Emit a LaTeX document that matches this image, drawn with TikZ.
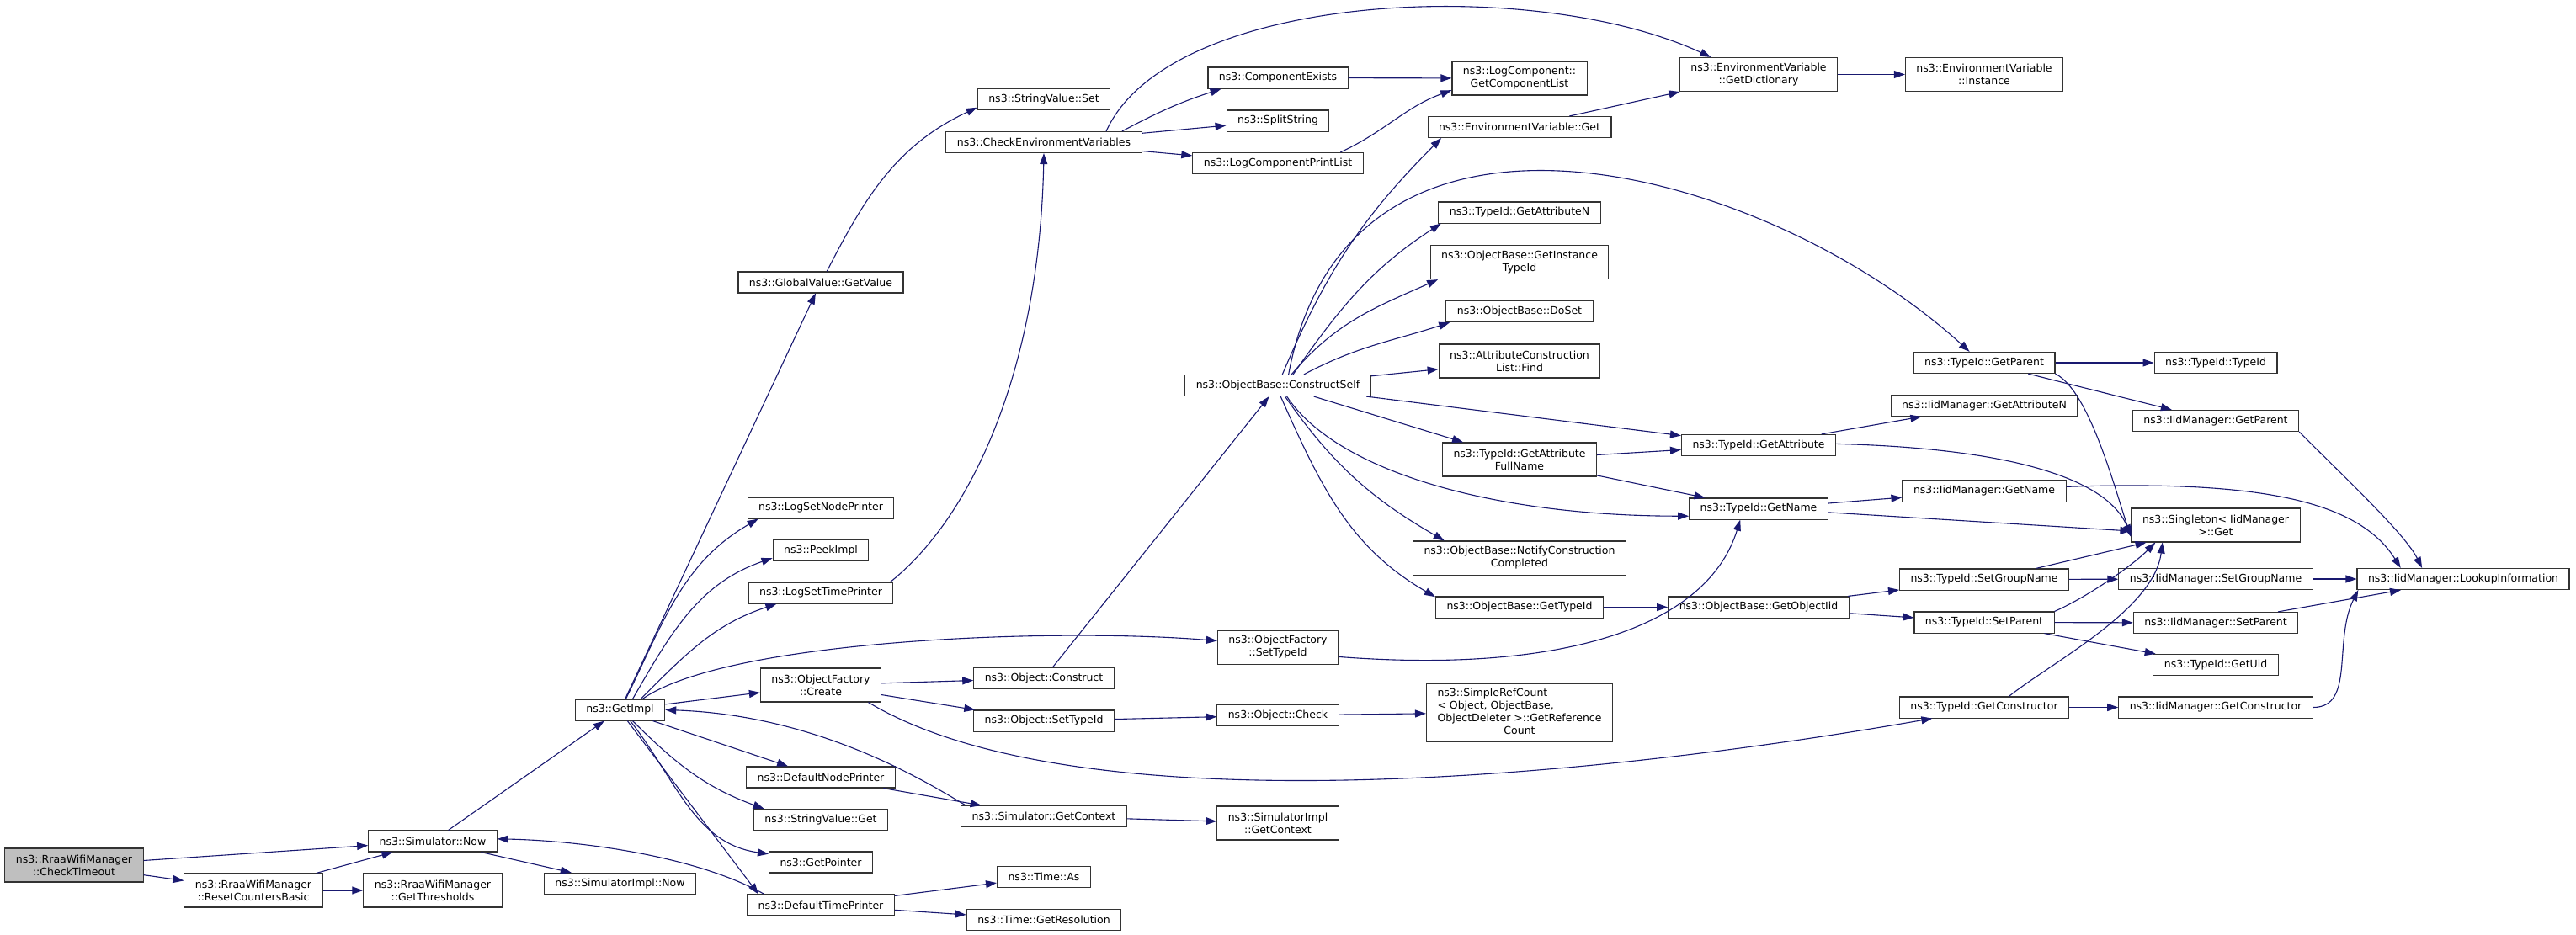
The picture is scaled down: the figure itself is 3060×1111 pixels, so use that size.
\documentclass[tikz,border=0pt]{standalone}
\usepackage{fontspec}
\setmainfont{DejaVu Sans}
\usetikzlibrary{arrows.meta}
\definecolor{edgeblue}{RGB}{25,25,112}
\definecolor{rootgray}{RGB}{191,191,191}
\begin{document}
\begin{tikzpicture}[x=1pt, y=1pt,
    fn/.style = {draw=black!80, line width=1.1pt, fill=white, inner xsep=13pt, inner ysep=6.5pt, minimum height=25pt, align=center, font=\fontsize{12.5}{15}\selectfont},
    fn2/.style = {fn, minimum height=40pt},
    call/.style = {->, draw=edgeblue, line width=1.1pt},
    >={Triangle[length=13pt, width=9pt]}]
        \useasboundingbox (0,0) rectangle (3060,-1111);
        \node[fn2, fill=rootgray] (checkTimeout) at (88,-1028) {ns3::RraaWifiManager\\::CheckTimeout};
        \node[fn2] (resetCounters) at (301,-1058) {ns3::RraaWifiManager\\::ResetCountersBasic};
        \node[fn] (simNow) at (514,-999.5) {ns3::Simulator::Now};
        \node[fn2] (getThresholds) at (514,-1058) {ns3::RraaWifiManager\\::GetThresholds};
        \node[fn] (getImpl) at (736.5,-843.5) {ns3::GetImpl};
        \node[fn] (simImplNow) at (736.5,-1050) {ns3::SimulatorImpl::Now};
        \node[fn] (globalGetValue) at (975,-335.5) {ns3::GlobalValue::GetValue};
        \node[fn] (logSetNodePrinter) at (975,-603.5) {ns3::LogSetNodePrinter};
        \node[fn] (peekImpl) at (975,-654) {ns3::PeekImpl};
        \node[fn] (logSetTimePrinter) at (975,-704.5) {ns3::LogSetTimePrinter};
        \node[fn2] (ofCreate) at (975,-814) {ns3::ObjectFactory\\::Create};
        \node[fn] (defaultNodePrinter) at (975,-923.5) {ns3::DefaultNodePrinter};
        \node[fn] (stringValueGet) at (975,-974) {ns3::StringValue::Get};
        \node[fn] (getPointer) at (975,-1024.5) {ns3::GetPointer};
        \node[fn] (defaultTimePrinter) at (975,-1075.5) {ns3::DefaultTimePrinter};
        \node[fn] (stringValueSet) at (1240,-118) {ns3::StringValue::Set};
        \node[fn] (checkEnv) at (1240,-169) {ns3::CheckEnvironmentVariables};
        \node[fn] (objConstruct) at (1240,-806) {ns3::Object::Construct};
        \node[fn] (objSetTypeId) at (1240,-856.5) {ns3::Object::SetTypeId};
        \node[fn] (simGetContext) at (1240,-970) {ns3::Simulator::GetContext};
        \node[fn] (timeAs) at (1240,-1042) {ns3::Time::As};
        \node[fn] (timeGetRes) at (1240,-1093) {ns3::Time::GetResolution};
        \node[fn] (componentExists) at (1518,-92.5) {ns3::ComponentExists};
        \node[fn] (splitString) at (1518,-143.5) {ns3::SplitString};
        \node[fn] (logCompPrintList) at (1518,-194) {ns3::LogComponentPrintList};
        \node[fn] (constructSelf) at (1518,-458) {ns3::ObjectBase::ConstructSelf};
        \node[fn2] (ofSetTypeId) at (1518,-769) {ns3::ObjectFactory\\::SetTypeId};
        \node[fn] (objCheck) at (1518,-850) {ns3::Object::Check};
        \node[fn2] (simImplGetContext) at (1518,-978) {ns3::SimulatorImpl\\::GetContext};
        \node[fn2] (getComponentList) at (1805,-93) {ns3::LogComponent::\\GetComponentList};
        \node[fn] (envVarGet) at (1805,-151) {ns3::EnvironmentVariable::Get};
        \node[fn] (typeIdGetAttributeN) at (1805,-252.5) {ns3::TypeId::GetAttributeN};
        \node[fn2] (getInstanceTypeId) at (1805,-311.5) {ns3::ObjectBase::GetInstance\\TypeId};
        \node[fn] (doSet) at (1805,-370) {ns3::ObjectBase::DoSet};
        \node[fn2] (attrFind) at (1805,-429) {ns3::AttributeConstruction\\List::Find};
        \node[fn2] (getAttrFullName) at (1805,-546) {ns3::TypeId::GetAttribute\\FullName};
        \node[fn2] (notifyConstruction) at (1805,-663) {ns3::ObjectBase::NotifyConstruction\\Completed};
        \node[fn] (obGetTypeId) at (1805,-721.5) {ns3::ObjectBase::GetTypeId};
        \node[fn, inner ysep=4.5pt] (simpleRefCount) at (1805,-846.5) {\begin{tabular}{@{}l@{}}ns3::SimpleRefCount\\< Object, ObjectBase,\\ObjectDeleter >::GetReference\\\multicolumn{1}{@{}c@{}}{Count}\end{tabular}};
        \node[fn2] (getDictionary) at (2089,-88.5) {ns3::EnvironmentVariable\\::GetDictionary};
        \node[fn] (typeIdGetAttribute) at (2089,-529) {ns3::TypeId::GetAttribute};
        \node[fn] (typeIdGetName) at (2089,-604.5) {ns3::TypeId::GetName};
        \node[fn] (getObjectIid) at (2089,-721.5) {ns3::ObjectBase::GetObjectIid};
        \node[fn2] (envInstance) at (2357,-88.5) {ns3::EnvironmentVariable\\::Instance};
        \node[fn] (typeIdGetParent) at (2357,-431) {ns3::TypeId::GetParent};
        \node[fn] (iidGetAttributeN) at (2357,-482) {ns3::IidManager::GetAttributeN};
        \node[fn] (iidGetName) at (2357,-583.5) {ns3::IidManager::GetName};
        \node[fn] (typeIdSetGroupName) at (2357,-688.5) {ns3::TypeId::SetGroupName};
        \node[fn] (typeIdSetParent) at (2357,-739.5) {ns3::TypeId::SetParent};
        \node[fn] (typeIdGetConstructor) at (2357,-840.5) {ns3::TypeId::GetConstructor};
        \node[fn] (typeIdTypeId) at (2632,-431) {ns3::TypeId::TypeId};
        \node[fn] (iidGetParent) at (2632,-500) {ns3::IidManager::GetParent};
        \node[fn2] (singletonGet) at (2632,-624) {ns3::Singleton< IidManager\\ >::Get};
        \node[fn] (iidSetGroupName) at (2632,-688) {ns3::IidManager::SetGroupName};
        \node[fn] (iidSetParent) at (2632,-740) {ns3::IidManager::SetParent};
        \node[fn] (typeIdGetUid) at (2632,-790) {ns3::TypeId::GetUid};
        \node[fn] (iidGetConstructor) at (2632,-840.5) {ns3::IidManager::GetConstructor};
        \node[fn] (lookupInfo) at (2926,-688) {ns3::IidManager::LookupInformation};
        \draw[call] (checkTimeout) -- (simNow);
        \draw[call] (checkTimeout) -- (resetCounters);
        \draw[call] (resetCounters) -- (simNow);
        \draw[call] (resetCounters) -- (getThresholds);
        \draw[call] (simNow) -- (getImpl);
        \draw[call] (simNow) -- (simImplNow);
        \draw[call] (defaultTimePrinter.169) .. controls +(-80,45) and +(100,-2) .. (simNow.2);
        \draw[call] (getImpl) -- (globalGetValue);
        \draw[call] (getImpl.62) to[out=64, in=210] (logSetNodePrinter.190);
        \draw[call] (getImpl.41) to[out=60, in=199] (peekImpl.189);
        \draw[call] (getImpl.28) to[out=45, in=198] (logSetTimePrinter.194);
        \draw[call] (getImpl.26) .. controls +(100,70) and +(-196,16) .. (ofSetTypeId.174);
        \draw[call] (getImpl) -- (ofCreate);
        \draw[call] (getImpl) -- (defaultNodePrinter);
        \draw[call] (getImpl.319) to[out=-45, in=160] (stringValueGet.169);
        \draw[call] (getImpl.313) to[out=-52, in=172] (getPointer.171);
        \draw[call] (getImpl.304) -- (defaultTimePrinter.170);
        \draw[call] (ofCreate) -- (objConstruct);
        \draw[call] (ofCreate) -- (objSetTypeId);
        \draw[call] (ofCreate.340) .. controls +(250,-150) and +(-400,-70) .. (typeIdGetConstructor.192);
        \draw[call] (simGetContext.172) .. controls +(-50,30) and +(180,-6) .. (getImpl.east);
        \draw[call] (defaultNodePrinter) -- (simGetContext);
        \draw[call] (simGetContext) -- (simImplGetContext);
        \draw[call] (defaultTimePrinter) -- (timeAs);
        \draw[call] (defaultTimePrinter) -- (timeGetRes);
        \draw[call] (globalGetValue.61) to[out=63, in=205] (stringValueSet.187);
        \draw[call] (logSetTimePrinter.9) .. controls +(100,80) and +(-5,-250) .. (checkEnv.south);
        \draw[call] (objConstruct) -- (constructSelf);
        \draw[call] (objSetTypeId) -- (objCheck);
        \draw[call] (objCheck) -- (simpleRefCount);
        \draw[call] (checkEnv.8) to[out=28, in=198] (componentExists.191);
        \draw[call] (checkEnv) -- (splitString);
        \draw[call] (checkEnv) -- (logCompPrintList);
        \draw[call] (checkEnv.10) .. controls +(75,166) and +(-211,98) .. (getDictionary.160);
        \draw[call] (componentExists) -- (getComponentList);
        \draw[call] (logCompPrintList.10) to[out=25, in=200] (getComponentList.190);
        \draw[call] (envVarGet) -- (getDictionary);
        \draw[call] (getDictionary) -- (envInstance);
        \draw[call] (constructSelf.68) to[out=67, in=225] (envVarGet.188);
        \draw[call] (constructSelf.46) .. controls +(72,385) and +(-239.5,218) .. (typeIdGetParent.143);
        \draw[call] (constructSelf.36) to[out=55, in=213] (typeIdGetAttributeN.188);
        \draw[call] (constructSelf.39) to[out=50, in=204] (getInstanceTypeId.192);
        \draw[call] (constructSelf.23) to[out=28, in=198] (doSet.189);
        \draw[call] (constructSelf) -- (attrFind);
        \draw[call] (constructSelf) -- (typeIdGetAttribute);
        \draw[call] (constructSelf) -- (getAttrFullName);
        \draw[call] (constructSelf.309) .. controls +(60,-90) and +(-230,0) .. (typeIdGetName.186);
        \draw[call] (constructSelf.303) to[out=-55, in=150] (notifyConstruction.167);
        \draw[call] (constructSelf.284) to[out=-66, in=150] (obGetTypeId.173);
        \draw[call] (getAttrFullName) -- (typeIdGetAttribute);
        \draw[call] (getAttrFullName) -- (typeIdGetName);
        \draw[call] (obGetTypeId) -- (getObjectIid);
        \draw[call] (ofSetTypeId.351) .. controls +(260,-20) and +(-40,-130) .. (typeIdGetName.211);
        \draw[call] (typeIdGetAttribute) -- (iidGetAttributeN);
        \draw[call] (typeIdGetAttribute.1) .. controls +(200,-5) and +(-30,70) .. (singletonGet.187);
        \draw[call] (typeIdGetName) -- (iidGetName);
        \draw[call] (typeIdGetName.357) -- (singletonGet.184);
        \draw[call] (typeIdGetParent) -- (typeIdTypeId);
        \draw[call] (typeIdGetParent) -- (iidGetParent);
        \draw[call] (typeIdGetParent.south east) .. controls +(40,-20) and +(-20,60) .. (singletonGet.188);
        \draw[call] (getObjectIid) -- (typeIdSetGroupName);
        \draw[call] (getObjectIid) -- (typeIdSetParent);
        \draw[call] (typeIdSetGroupName.12) -- (singletonGet.194);
        \draw[call] (typeIdSetGroupName) -- (iidSetGroupName);
        \draw[call] (typeIdSetParent.north east) .. controls +(35,15) and +(-30,-30) .. (singletonGet.196);
        \draw[call] (typeIdSetParent) -- (iidSetParent);
        \draw[call] (typeIdSetParent) -- (typeIdGetUid);
        \draw[call] (typeIdGetConstructor.24) .. controls +(50,40) and +(-10,-80) .. (singletonGet.198);
        \draw[call] (typeIdGetConstructor) -- (iidGetConstructor);
        \draw[call] (iidGetName.3) .. controls +(230,8) and +(-50,80) .. (lookupInfo.170);
        \draw[call] (iidGetParent.south east) .. controls +(60,-60) and +(-20,40) .. (lookupInfo.165);
        \draw[call] (iidSetGroupName) -- (lookupInfo);
        \draw[call] (iidSetParent) -- (lookupInfo);
        \draw[call] (iidGetConstructor.east) .. controls +(50,0) and +(-30,-60) .. (lookupInfo.186);
    \end{tikzpicture}
\end{document}
